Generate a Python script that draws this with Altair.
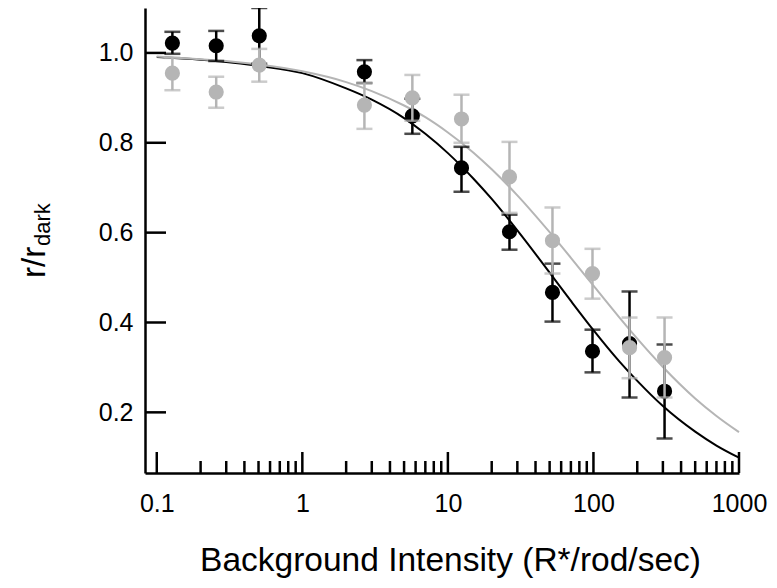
import altair as alt
import pandas as pd

# ---------------- data ----------------
intensity = [0.128, 0.256, 0.506, 2.67, 5.7, 12.4, 26.5, 52.3, 98.5, 177, 308]

black_r = [1.022, 1.016, 1.038, 0.958, 0.860, 0.744, 0.602, 0.467, 0.336, 0.353, 0.247]
black_hi = [1.047, 1.049, 1.100, 0.984, 0.898, 0.791, 0.640, 0.531, 0.384, 0.469, 0.351]
black_lo = [0.998, 0.982, 0.976, 0.933, 0.820, 0.691, 0.562, 0.402, 0.289, 0.233, 0.142]

gray_r = [0.955, 0.913, 0.973, 0.884, 0.900, 0.853, 0.724, 0.582, 0.509, 0.344, 0.322]
gray_hi = [0.989, 0.947, 1.009, 0.933, 0.951, 0.907, 0.802, 0.656, 0.564, 0.411, 0.411]
gray_lo = [0.917, 0.878, 0.936, 0.831, 0.849, 0.800, 0.644, 0.509, 0.453, 0.276, 0.233]

fit_I = [0.1, 0.2, 0.3, 0.5, 1, 2, 3, 5, 7, 10, 15, 20, 30, 50, 70, 100, 150, 200, 300, 500, 700, 1000]
fit_black = [0.991, 0.985, 0.980, 0.971, 0.955, 0.921, 0.896, 0.855, 0.820, 0.777, 0.720, 0.675,
             0.605, 0.511, 0.448, 0.383, 0.314, 0.270, 0.214, 0.157, 0.126, 0.099]
fit_gray = [0.992, 0.986, 0.982, 0.974, 0.959, 0.935, 0.915, 0.883, 0.857, 0.823, 0.778, 0.741,
            0.683, 0.601, 0.544, 0.482, 0.412, 0.364, 0.301, 0.231, 0.192, 0.156]

x_major = [0.1, 1, 10, 100, 1000]
x_minor = [0.2, 0.3, 0.4, 0.5, 0.6, 0.7, 0.8, 0.9,
           2, 3, 4, 5, 6, 7, 8, 9,
           20, 30, 40, 50, 60, 70, 80, 90,
           200, 300, 400, 500, 600, 700, 800, 900]
y_major = [0.2, 0.4, 0.6, 0.8, 1.0]

BLACK = "#000000"
GRAY = "#b5b5b5"
FONT = "Liberation Sans"
W, H = 594, 465
XTITLE = "Background Intensity (R*/rod/sec)"

xscale = alt.Scale(type="log", domain=[0.083, 1000], nice=False)
yscale = alt.Scale(domain=[0.065, 1.1], nice=False, zero=False)

xaxis = alt.Axis(values=x_major, format="~g", ticks=False, tickSize=0, grid=False,
                 labelPadding=18, titlePadding=28, labelFontSize=25, titleFontSize=33.5,
                 titleX=W / 2 + 8,
                 labelFont=FONT, titleFont=FONT, titleFontWeight="normal",
                 labelColor="black", titleColor="black",
                 domainColor="black", domainWidth=2.5, labelFlush=False)
yaxis = alt.Axis(values=y_major, format=".1f", ticks=False, tickSize=0, grid=False,
                 labelPadding=12, labelFontSize=25, labelFont=FONT, labelColor="black",
                 domainColor="black", domainWidth=2.5, labelFlush=False)


def X(field):
    return alt.X(f"{field}:Q", scale=xscale, axis=xaxis, title=XTITLE)


def Y(field):
    return alt.Y(f"{field}:Q", scale=yscale, axis=yaxis, title=None)


def series_layers(r, lo, hi, color):
    df = pd.DataFrame({"I": intensity, "r": r, "lo": lo, "hi": hi})
    base = alt.Chart(df)
    bars = base.mark_rule(color=color, strokeWidth=2.5).encode(x=X("I"), y=Y("lo"), y2="hi:Q")
    cap_hi = base.mark_tick(color=color, orient="horizontal", size=16, thickness=2.5).encode(
        x=X("I"), y=Y("hi"))
    cap_lo = base.mark_tick(color=color, orient="horizontal", size=16, thickness=2.5).encode(
        x=X("I"), y=Y("lo"))
    pts = base.mark_circle(color=color, size=230, opacity=1).encode(x=X("I"), y=Y("r"))
    return [bars, cap_hi, cap_lo, pts]


def fit_layer(vals, color):
    df = pd.DataFrame({"I": fit_I, "r": vals})
    return alt.Chart(df).mark_line(color=color, strokeWidth=2, interpolate="monotone").encode(
        x=X("I"), y=Y("r"))


xmaj = alt.Chart(pd.DataFrame({"I": x_major})).mark_rule(color="black", strokeWidth=2.5).encode(
    x=X("I"), y=alt.value(H), y2=alt.value(H - 21))
xmin = alt.Chart(pd.DataFrame({"I": x_minor})).mark_rule(color="black", strokeWidth=2.5).encode(
    x=X("I"), y=alt.value(H), y2=alt.value(H - 12))
ymaj = alt.Chart(pd.DataFrame({"r": y_major})).mark_rule(color="black", strokeWidth=2.5).encode(
    y=Y("r"), x=alt.value(0), x2=alt.value(21))

one = pd.DataFrame({"a": [0]})
ytitle_main = alt.Chart(one).mark_text(text="r/r", angle=270, align="left", baseline="alphabetic",
                                       fontSize=33, font=FONT, color="black").encode(
    x=alt.value(-100), y=alt.value(270))
ytitle_sub = alt.Chart(one).mark_text(text="dark", angle=270, align="left", baseline="alphabetic",
                                      fontSize=22, font=FONT, color="black").encode(
    x=alt.value(-95), y=alt.value(238))

layers = [fit_layer(fit_black, BLACK), fit_layer(fit_gray, GRAY)]
layers += series_layers(black_r, black_lo, black_hi, BLACK)
layers += series_layers(gray_r, gray_lo, gray_hi, GRAY)
layers += [xmaj, xmin, ymaj, ytitle_main, ytitle_sub]

chart = alt.layer(*layers).properties(
    width=W, height=H,
    autosize="none",
    padding={"left": 137, "top": 0, "right": 30, "bottom": 112},
).configure(background="white", view=alt.ViewConfig(stroke=None))

chart.save("out.html", embed_options={"renderer": "svg", "actions": False})
